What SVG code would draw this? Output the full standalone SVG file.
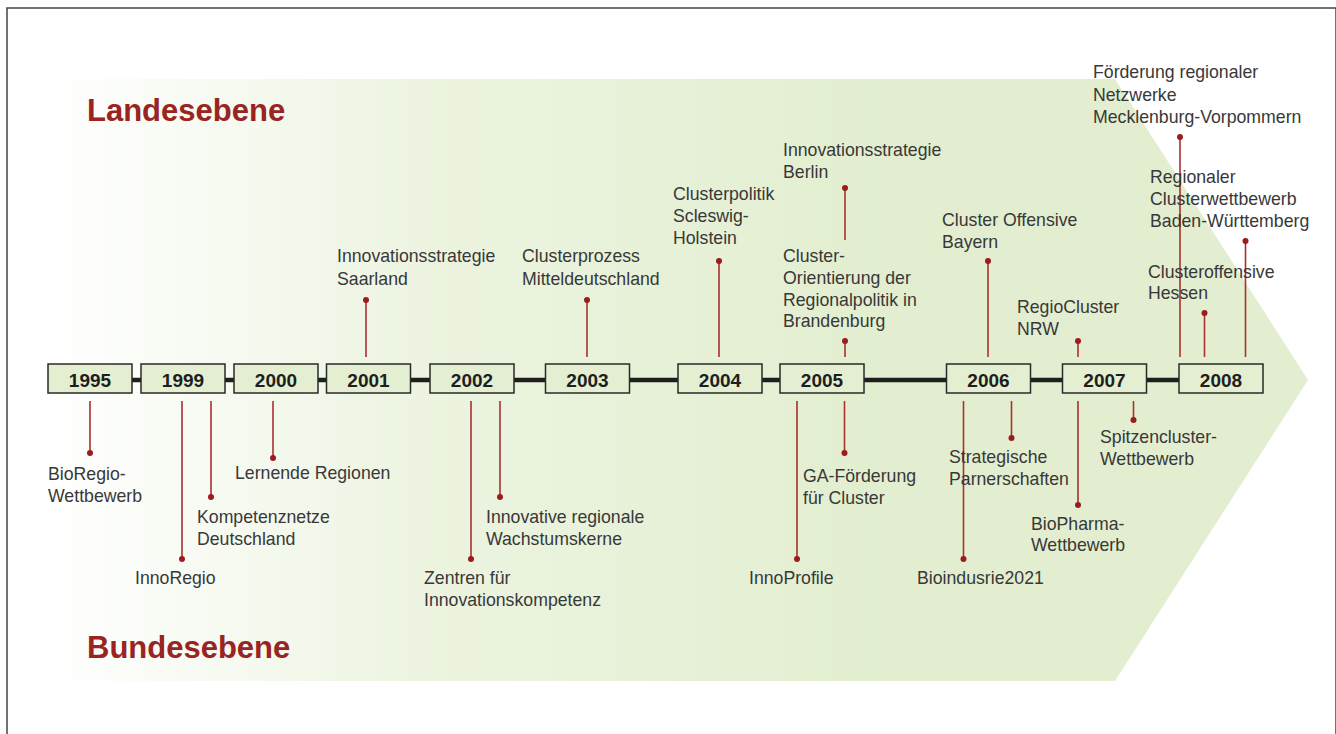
<svg xmlns="http://www.w3.org/2000/svg" width="1336" height="734" viewBox="0 0 1336 734">
<defs>
<linearGradient id="bg" gradientUnits="userSpaceOnUse" x1="50" y1="0" x2="900" y2="0">
<stop offset="0" stop-color="#ffffff"/>
<stop offset="0.45" stop-color="#ecf4e0"/>
<stop offset="1" stop-color="#e2eecf"/>
</linearGradient>
<style>
.yr rect{fill:#e3efd0;stroke:#2a2a2a;stroke-width:1.5}
.yr text{font-family:"Liberation Sans",Arial,sans-serif;font-weight:bold;font-size:19px;fill:#1e1e1e;text-anchor:middle}
.lbl{font-family:"Liberation Sans",Arial,sans-serif;font-size:17.7px;fill:#383838}
.lvl{font-family:"Liberation Sans",Arial,sans-serif;font-weight:bold;font-size:31px;fill:#9a2422}
.con line{stroke:#a83030;stroke-width:1.6}
.con circle{fill:#9b1c1c}
</style>
</defs>
<rect x="0" y="0" width="1336" height="734" fill="#ffffff"/>
<rect x="7" y="8" width="1329" height="740" fill="none" stroke="#444" stroke-width="1.5"/>
<polygon points="50,79 1115,79 1308,380 1115,681 50,681" fill="url(#bg)"/>
<text class="lvl" x="87" y="121">Landesebene</text>
<text class="lvl" x="87" y="658">Bundesebene</text>
<line x1="132" y1="380" x2="1180" y2="380" stroke="#1e1e1e" stroke-width="4.5"/>
<g id="connectors" class="con">
<line x1="366" y1="300" x2="366" y2="357"/><circle cx="366" cy="300" r="3"/>
<line x1="587" y1="300" x2="587" y2="357"/><circle cx="587" cy="300" r="3"/>
<line x1="719" y1="261" x2="719" y2="357"/><circle cx="719" cy="261" r="3"/>
<line x1="845" y1="188" x2="845" y2="240"/><circle cx="845" cy="188" r="3"/>
<line x1="845" y1="341" x2="845" y2="357"/><circle cx="845" cy="341" r="3"/>
<line x1="988" y1="261" x2="988" y2="357"/><circle cx="988" cy="261" r="3"/>
<line x1="1078" y1="341" x2="1078" y2="357"/><circle cx="1078" cy="341" r="3"/>
<line x1="1180" y1="137" x2="1180" y2="357"/><circle cx="1180" cy="137" r="3"/>
<line x1="1245.5" y1="241" x2="1245.5" y2="357"/><circle cx="1245.5" cy="241" r="3"/>
<line x1="1204.5" y1="313" x2="1204.5" y2="357"/><circle cx="1204.5" cy="313" r="3"/>
<line x1="90" y1="401" x2="90" y2="453"/><circle cx="90" cy="453" r="3"/>
<line x1="182" y1="401" x2="182" y2="559"/><circle cx="182" cy="559" r="3"/>
<line x1="211" y1="401" x2="211" y2="497"/><circle cx="211" cy="497" r="3"/>
<line x1="273" y1="401" x2="273" y2="458"/><circle cx="273" cy="458" r="3"/>
<line x1="471" y1="401" x2="471" y2="559"/><circle cx="471" cy="559" r="3"/>
<line x1="500" y1="401" x2="500" y2="497"/><circle cx="500" cy="497" r="3"/>
<line x1="797" y1="401" x2="797" y2="559"/><circle cx="797" cy="559" r="3"/>
<line x1="844.5" y1="401" x2="844.5" y2="453"/><circle cx="844.5" cy="453" r="3"/>
<line x1="963.5" y1="401" x2="963.5" y2="559"/><circle cx="963.5" cy="559" r="3"/>
<line x1="1011.5" y1="401" x2="1011.5" y2="438"/><circle cx="1011.5" cy="438" r="3"/>
<line x1="1078" y1="401" x2="1078" y2="505"/><circle cx="1078" cy="505" r="3"/>
<line x1="1133.5" y1="401" x2="1133.5" y2="420"/><circle cx="1133.5" cy="420" r="3"/>
</g>
<g id="y1995" class="yr"><rect x="48" y="364" width="84" height="29"/><text x="90" y="387">1995</text></g>
<g id="y1999" class="yr"><rect x="141" y="364" width="84" height="29"/><text x="183" y="387">1999</text></g>
<g id="y2000" class="yr"><rect x="234" y="364" width="84" height="29"/><text x="276" y="387">2000</text></g>
<g id="y2001" class="yr"><rect x="326.5" y="364" width="84" height="29"/><text x="368.5" y="387">2001</text></g>
<g id="y2002" class="yr"><rect x="430" y="364" width="84" height="29"/><text x="472" y="387">2002</text></g>
<g id="y2003" class="yr"><rect x="545.5" y="364" width="84" height="29"/><text x="587.5" y="387">2003</text></g>
<g id="y2004" class="yr"><rect x="678" y="364" width="84" height="29"/><text x="720" y="387">2004</text></g>
<g id="y2005" class="yr"><rect x="780" y="364" width="84" height="29"/><text x="822" y="387">2005</text></g>
<g id="y2006" class="yr"><rect x="946.5" y="364" width="84" height="29"/><text x="988.5" y="387">2006</text></g>
<g id="y2007" class="yr"><rect x="1062.5" y="364" width="84" height="29"/><text x="1104.5" y="387">2007</text></g>
<g id="y2008" class="yr"><rect x="1179" y="364" width="84" height="29"/><text x="1221" y="387">2008</text></g>
<g id="l-saarland"><text class="lbl" x="337" y="262"><tspan x="337">Innovationsstrategie</tspan><tspan x="337" dy="22.5">Saarland</tspan></text></g>
<g id="l-mittel"><text class="lbl" x="522" y="262"><tspan x="522">Clusterprozess</tspan><tspan x="522" dy="22.5">Mitteldeutschland</tspan></text></g>
<g id="l-sh"><text class="lbl" x="673" y="200"><tspan x="673">Clusterpolitik</tspan><tspan x="673" dy="22">Scleswig-</tspan><tspan x="673" dy="22">Holstein</tspan></text></g>
<g id="l-berlin"><text class="lbl" x="783" y="156"><tspan x="783">Innovationsstrategie</tspan><tspan x="783" dy="22">Berlin</tspan></text></g>
<g id="l-brandenburg"><text class="lbl" x="783" y="262"><tspan x="783">Cluster-</tspan><tspan x="783" dy="22">Orientierung der</tspan><tspan x="783" dy="22">Regionalpolitik in</tspan><tspan x="783" dy="21">Brandenburg</tspan></text></g>
<g id="l-bayern"><text class="lbl" x="942" y="226"><tspan x="942">Cluster Offensive</tspan><tspan x="942" dy="21.5">Bayern</tspan></text></g>
<g id="l-nrw"><text class="lbl" x="1017" y="313"><tspan x="1017">RegioCluster</tspan><tspan x="1017" dy="22">NRW</tspan></text></g>
<g id="l-mv"><text class="lbl" x="1093" y="78"><tspan x="1093">Förderung regionaler</tspan><tspan x="1093" dy="22.5">Netzwerke</tspan><tspan x="1093" dy="22.5">Mecklenburg-Vorpommern</tspan></text></g>
<g id="l-bw"><text class="lbl" x="1150" y="183"><tspan x="1150">Regionaler</tspan><tspan x="1150" dy="22">Clusterwettbewerb</tspan><tspan x="1150" dy="22">Baden-Württemberg</tspan></text></g>
<g id="l-hessen"><text class="lbl" x="1148" y="277.5"><tspan x="1148">Clusteroffensive</tspan><tspan x="1148" dy="21">Hessen</tspan></text></g>
<g id="l-bioregio"><text class="lbl" x="48" y="480"><tspan x="48">BioRegio-</tspan><tspan x="48" dy="21.5">Wettbewerb</tspan></text></g>
<g id="l-innoregio"><text class="lbl" x="135" y="584">InnoRegio</text></g>
<g id="l-kompetenz"><text class="lbl" x="197" y="523"><tspan x="197">Kompetenznetze</tspan><tspan x="197" dy="21.5">Deutschland</tspan></text></g>
<g id="l-lernende"><text class="lbl" x="235" y="479">Lernende Regionen</text></g>
<g id="l-zentren"><text class="lbl" x="424" y="584"><tspan x="424">Zentren für</tspan><tspan x="424" dy="22">Innovationskompetenz</tspan></text></g>
<g id="l-wachstum"><text class="lbl" x="486" y="523"><tspan x="486">Innovative regionale</tspan><tspan x="486" dy="21.5">Wachstumskerne</tspan></text></g>
<g id="l-innoprofile"><text class="lbl" x="749" y="584">InnoProfile</text></g>
<g id="l-ga"><text class="lbl" x="803" y="482"><tspan x="803">GA-Förderung</tspan><tspan x="803" dy="22">für Cluster</tspan></text></g>
<g id="l-bioind"><text class="lbl" x="917" y="584">Bioindusrie2021</text></g>
<g id="l-strat"><text class="lbl" x="949" y="463"><tspan x="949">Strategische</tspan><tspan x="949" dy="21.5">Parnerschaften</tspan></text></g>
<g id="l-biopharma"><text class="lbl" x="1031" y="530"><tspan x="1031">BioPharma-</tspan><tspan x="1031" dy="21">Wettbewerb</tspan></text></g>
<g id="l-spitzen"><text class="lbl" x="1100" y="443"><tspan x="1100">Spitzencluster-</tspan><tspan x="1100" dy="21.5">Wettbewerb</tspan></text></g>
</svg>
